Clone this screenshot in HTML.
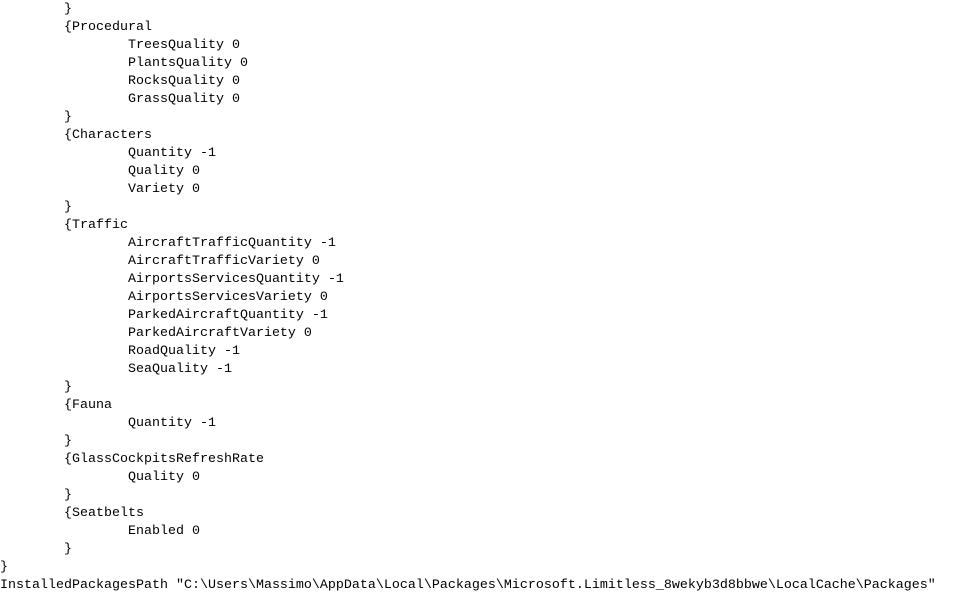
<!DOCTYPE html>
<html><head><meta charset="utf-8"><style>
html,body{margin:0;padding:0;background:#fff;width:960px;height:608px;overflow:hidden}
pre{position:absolute;left:0;top:1px;margin:0;font-family:"Liberation Mono",monospace;font-size:13.33px;line-height:18px;color:#000}
</style></head><body><pre>        }
        {Procedural
                TreesQuality 0
                PlantsQuality 0
                RocksQuality 0
                GrassQuality 0
        }
        {Characters
                Quantity -1
                Quality 0
                Variety 0
        }
        {Traffic
                AircraftTrafficQuantity -1
                AircraftTrafficVariety 0
                AirportsServicesQuantity -1
                AirportsServicesVariety 0
                ParkedAircraftQuantity -1
                ParkedAircraftVariety 0
                RoadQuality -1
                SeaQuality -1
        }
        {Fauna
                Quantity -1
        }
        {GlassCockpitsRefreshRate
                Quality 0
        }
        {Seatbelts
                Enabled 0
        }
}
InstalledPackagesPath "C:\Users\Massimo\AppData\Local\Packages\Microsoft.Limitless_8wekyb3d8bbwe\LocalCache\Packages"</pre></body></html>
